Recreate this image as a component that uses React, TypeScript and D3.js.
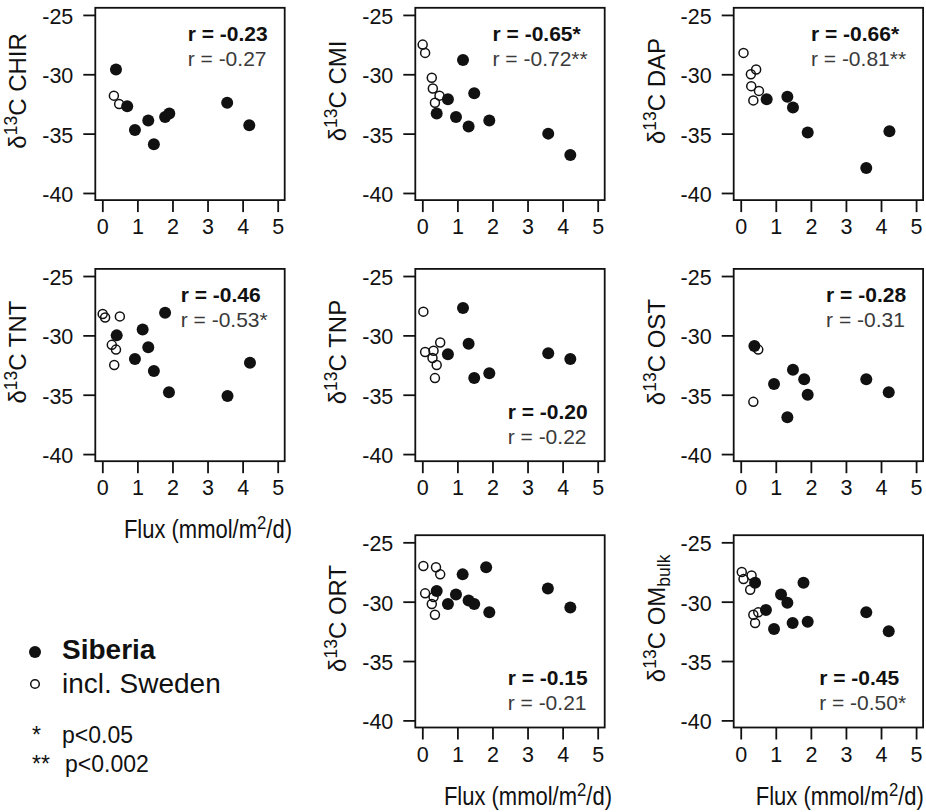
import React, { useEffect, useRef } from "react";
import * as d3 from "d3";

// ---------- data ----------
const fluxTicks = [0, 1, 2, 3, 4, 5];
const deltaTicks = [-25, -30, -35, -40];

const panelNames = ["CHIR", "CMI", "DAP", "TNT", "TNP", "OST", "ORT", "OM"];
const rSiberia = ["r = -0.23", "r = -0.65*", "r = -0.66*", "r = -0.46", "r = -0.20", "r = -0.28", "r = -0.15", "r = -0.45"];
const rAll = ["r = -0.27", "r = -0.72**", "r = -0.81**", "r = -0.53*", "r = -0.22", "r = -0.31", "r = -0.21", "r = -0.50*"];

const chirSiberia = [[0.39, -29.6], [0.71, -32.7], [0.93, -34.7], [1.31, -33.9], [1.47, -35.9], [1.79, -33.6], [1.91, -33.3], [3.56, -32.4], [4.19, -34.3]];
const chirSweden = [[0.33, -31.8], [0.48, -32.5]];

const cmiSiberia = [[0.41, -33.3], [0.73, -32.1], [0.96, -33.6], [1.16, -28.8], [1.32, -34.4], [1.48, -31.6], [1.91, -33.9], [3.59, -35.0], [4.22, -36.8]];
const cmiSweden = [[0.01, -27.5], [0.08, -28.2], [0.27, -30.3], [0.30, -31.2], [0.49, -31.8], [0.36, -32.4]];

const dapSiberia = [[0.74, -32.1], [1.33, -31.9], [1.49, -32.8], [1.91, -34.9], [3.58, -37.9], [4.24, -34.8]];
const dapSweden = [[0.08, -28.2], [0.44, -29.6], [0.29, -30.0], [0.30, -31.0], [0.52, -31.4], [0.36, -32.2]];

const tntSiberia = [[0.41, -30.0], [0.93, -32.0], [1.15, -29.5], [1.31, -31.0], [1.47, -33.0], [1.79, -28.1], [1.90, -34.8], [3.57, -35.1], [4.21, -32.3]];
const tntSweden = [[0.01, -28.2], [0.08, -28.5], [0.50, -28.4], [0.27, -30.8], [0.39, -31.2], [0.34, -32.5]];

const tnpSiberia = [[0.73, -31.6], [1.16, -27.7], [1.32, -30.7], [1.48, -33.6], [1.91, -33.2], [3.59, -31.5], [4.22, -32.0]];
const tnpSweden = [[0.03, -28.0], [0.51, -30.6], [0.08, -31.4], [0.32, -31.3], [0.29, -31.9], [0.41, -32.5], [0.36, -33.6]];

const ostSiberia = [[0.39, -30.9], [0.95, -34.1], [1.33, -36.9], [1.49, -32.9], [1.81, -33.7], [1.91, -35.0], [3.58, -33.7], [4.22, -34.8]];
const ostSweden = [[0.50, -31.2], [0.36, -35.6]];

const ortSiberia = [[0.41, -29.1], [0.73, -30.2], [0.96, -29.4], [1.15, -27.7], [1.32, -29.9], [1.48, -30.2], [1.82, -27.1], [1.91, -30.9], [3.58, -28.9], [4.22, -30.5]];
const ortSweden = [[0.03, -27.0], [0.39, -27.1], [0.51, -27.7], [0.08, -29.3], [0.32, -29.6], [0.27, -30.2], [0.36, -31.1]];

const omSiberia = [[0.41, -28.4], [0.72, -30.7], [0.95, -32.3], [1.15, -29.4], [1.33, -30.1], [1.48, -31.8], [1.79, -28.4], [1.91, -31.7], [3.58, -30.9], [4.22, -32.5]];
const omSweden = [[0.03, -27.5], [0.31, -27.8], [0.08, -28.1], [0.27, -29.0], [0.50, -30.9], [0.36, -31.1], [0.41, -31.8]];

const siberiaSets = [chirSiberia, cmiSiberia, dapSiberia, tntSiberia, tnpSiberia, ostSiberia, ortSiberia, omSiberia];
const swedenSets = [chirSweden, cmiSweden, dapSweden, tntSweden, tnpSweden, ostSweden, ortSweden, omSweden];

// ---------- layout ----------
const W = 926;
const H = 812;
const colLeft = [95.3, 415.3, 733.7];
const rowTop = [7.8, 268.9, 535.2];
const PW = 189.4;
const PH = 192.3;
const panelCell = [[0, 0], [0, 1], [0, 2], [1, 0], [1, 1], [1, 2], [2, 1], [2, 2]];
const legendBottom = [false, false, false, false, true, false, true, true];
const fluxLabelCells = [[1, 0], [2, 1], [2, 2]];
const FONT = "'Liberation Sans', Arial, Helvetica, sans-serif";
const INK = "#111";
const LABEL_SX = 0.88;

export default function App() {
  const ref = useRef<SVGSVGElement | null>(null);

  useEffect(() => {
    const svg = d3.select(ref.current);
    svg.selectAll("*").remove();
    svg.append("rect").attr("width", W).attr("height", H).attr("fill", "#fff");

    panelNames.forEach((name, i) => {
      const [row, col] = panelCell[i];
      const left = colLeft[col];
      const top = rowTop[row];
      const x = d3.scaleLinear().domain([-0.2, 5.2]).range([left, left + PW]);
      const y = d3.scaleLinear().domain([-40.6, -24.4]).range([top + PH, top]);
      const g = svg.append("g");

      // axes
      const ax = g.append("g").attr("transform", `translate(0,${top + PH})`)
        .call(d3.axisBottom(x).tickValues(fluxTicks).tickFormat((d) => String(d)).tickSize(12).tickPadding(7).tickSizeOuter(0));
      const ay = g.append("g").attr("transform", `translate(${left},0)`)
        .call(d3.axisLeft(y).tickValues(deltaTicks).tickFormat((d) => String(d)).tickSize(12).tickPadding(10).tickSizeOuter(0));
      [ax, ay].forEach((a) => {
        a.select(".domain").remove();
        a.attr("font-family", null).attr("font-size", null);
        a.selectAll("line").attr("stroke", INK).attr("stroke-width", 1.8);
        a.selectAll("text").attr("fill", INK).style("font-family", FONT).style("font-size", "21.5px");
      });
      ay.selectAll("text").attr("dy", "0.4em");

      // box
      g.append("rect").attr("x", left).attr("y", top).attr("width", PW).attr("height", PH)
        .attr("fill", "none").attr("stroke", INK).attr("stroke-width", 1.8);

      // points
      g.selectAll("circle.sw").data(swedenSets[i]).enter().append("circle")
        .attr("cx", (d) => x(d[0])).attr("cy", (d) => y(d[1])).attr("r", 4.5)
        .attr("fill", "none").attr("stroke", INK).attr("stroke-width", 1.5);
      g.selectAll("circle.si").data(siberiaSets[i]).enter().append("circle")
        .attr("cx", (d) => x(d[0])).attr("cy", (d) => y(d[1])).attr("r", 6)
        .attr("fill", INK);

      // y label
      const yl = g.append("text")
        .attr("transform", `translate(${left - 69},${top + PH / 2 - 13}) rotate(-90)`)
        .attr("text-anchor", "middle").attr("fill", INK)
        .style("font-family", FONT).style("font-size", "24px");
      yl.append("tspan").text("δ");
      yl.append("tspan").attr("font-size", "17.5px").attr("dy", -9).text("13");
      if (name === "OM") {
        yl.append("tspan").attr("dy", 9).text("C OM");
        yl.append("tspan").attr("font-size", "17.5px").attr("dy", 5).text("bulk");
      } else {
        yl.append("tspan").attr("dy", 9).text("C " + name);
      }

      // correlation legend
      const right = left + PW - 17;
      const bottom = legendBottom[i];
      const y1 = bottom ? top + PH - 42.5 : top + 33;
      const y2 = bottom ? top + PH - 17.5 : top + 58;
      const t1 = g.append("text").attr("y", y1).attr("fill", INK).attr("font-weight", "bold")
        .style("font-family", FONT).style("font-size", "21px").text(rSiberia[i]);
      const t2 = g.append("text").attr("y", y2).attr("fill", "#3a3a3a")
        .style("font-family", FONT).style("font-size", "21px").text(rAll[i]);
      const w = Math.max((t1.node() as SVGTextElement).getComputedTextLength(), (t2.node() as SVGTextElement).getComputedTextLength());
      t1.attr("x", right - w);
      t2.attr("x", right - w);
    });

    // flux labels (slightly condensed, as in the reference)
    fluxLabelCells.forEach(([row, col]) => {
      const lgG = svg.append("g");
      const t = lgG.append("text")
        .attr("x", 0).attr("y", 0)
        .attr("text-anchor", "start").attr("fill", INK)
        .style("font-family", FONT).style("font-size", "25px");
      t.append("tspan").text("Flux (mmol/m");
      t.append("tspan").attr("font-size", "19px").attr("dy", -9).text("2");
      t.append("tspan").attr("dy", 9).text("/d)");
      const tw = (t.node() as SVGTextElement).getComputedTextLength() * LABEL_SX;
      const cx = colLeft[col] + PW / 2 + 18;
      const x0 = Math.min(cx - tw / 2, W - 2 - tw);
      lgG.attr("transform", `translate(${x0},${rowTop[row] + PH + 77}) scale(${LABEL_SX},1)`);
    });

    // group legend
    const lg = svg.append("g").attr("fill", INK).style("font-family", FONT);
    lg.append("circle").attr("cx", 35).attr("cy", 652).attr("r", 6).attr("fill", INK);
    lg.append("text").attr("x", 62).attr("y", 659).attr("font-weight", "bold").style("font-size", "28px").text("Siberia");
    lg.append("circle").attr("cx", 35).attr("cy", 684).attr("r", 4.3).attr("fill", "none").attr("stroke", INK).attr("stroke-width", 1.5);
    lg.append("text").attr("x", 62).attr("y", 693).style("font-size", "28px").text("incl. Sweden");
    lg.append("text").attr("x", 32).attr("y", 743).style("font-size", "23px").text("*");
    lg.append("text").attr("x", 62).attr("y", 743).style("font-size", "23px").text("p<0.05");
    lg.append("text").attr("x", 32).attr("y", 772).style("font-size", "23px").text("**");
    lg.append("text").attr("x", 65).attr("y", 772).style("font-size", "23px").text("p<0.002");
  }, []);

  return (
    <svg ref={ref} width={W} height={H} style={{ position: "absolute", left: 0, top: 0, display: "block" }} />
  );
}
